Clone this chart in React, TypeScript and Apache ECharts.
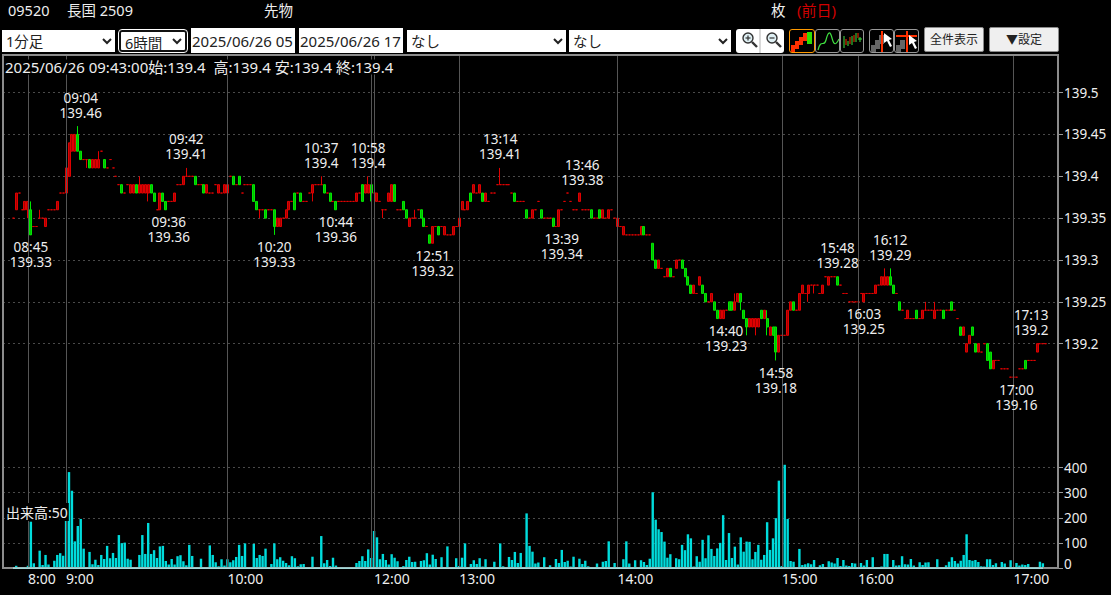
import React, { useEffect, useRef } from "react";
import * as echarts from "echarts";

// Prices are hundredths above 139 : [open, close, low?, high?]
const basePrice = 139;
const candles: number[][] = [
  [35,35],[36,38],[38,38],[36,36],[36,37],[36,37,35,37],[36,33,33,37],[34,34],[34,34],[35,35,35,36],
  [35,35],[34,35],[36,36],[36,36],[36,36],[36,37],[38,38],[38,38],[38,41],[40,44],
  [43,45],[43,45],[45,43,43,46],[43,42],[42,42],[42,42,41,42],[42,41],[41,42],[41,42],[41,42,41,43],
  [43,43],[42,41],[41,41],[42,42],[41,41],[40,40],[39,39],[39,38],[38,38],[39,39],
  [38,39],[38,39],[39,38],[38,39,38,40],[38,39],[38,39],[38,39,37,39],[39,38],[38,37],[36,36],
  [36,38],[38,37],[37,36],[37,37],[37,37],[37,38],[39,39],[39,39],[39,40],[40,40,40,41],
  [40,40],[40,40],[40,39],[39,39],[39,39],[39,38],[38,39],[38,38],[38,38],[39,39],
  [38,39],[38,38],[38,39],[38,39],[40,40],[40,39],[39,39],[40,39],[38,38],[39,39],
  [39,39],[39,39],[39,37],[37,36],[36,36,35,36],[36,36],[36,35],[36,36],[36,36],[36,34,33,36],
  [34,35],[34,35],[35,35],[35,36],[36,37],[37,37],[38,36],[38,38],[38,37],[37,37],
  [37,37],[38,38],[38,39,37,39],[39,39],[39,39],[39,39,39,40],[39,38],[38,38],[38,37],[37,37],
  [37,36],[37,37],[37,37],[37,37],[37,37],[37,37],[37,37],[37,38],[38,38],[39,37],
  [38,39],[38,39,38,40],[39,38,37,39],[38,38],[37,38],[37,37],[36,36,35,36],[36,36],[37,38],[37,39],
  [39,37],[36,36],[36,36],[37,36],[36,35],[34,35],[35,35],[35,35,35,36],[36,36],[36,35],
  [35,34],[34,34],[33,32],[32,34],[34,34],[34,33],[34,34],[33,34],[33,33],[33,33],
  [33,34],[34,34],[34,35],[36,37],[36,36],[36,37],[38,37],[38,39],[38,38],[38,39],
  [38,37],[37,38],[37,37],[38,38],[38,38],[39,39],[39,39,39,41],[39,39],[39,39],[39,39],
  [38,38],[38,37],[37,37],[37,37],[37,37],[36,35],[35,35],[35,36],[36,36],[37,37],
  [36,35],[35,35],[35,35],[35,35],[35,34],[34,34],[34,36],[36,36],[37,37],[38,38],
  [37,37],[36,36],[36,36],[37,38],[36,36],[36,36],[36,36],[36,35],[35,35],[35,35],
  [36,35],[35,36],[35,35],[35,36],[36,36],[35,35],[34,35],[34,34],[33,34],[33,33],
  [33,33],[33,33],[33,33],[33,33],[33,34],[34,33],[33,33],[33,33],[32,30],[30,29],
  [29,30],[29,29],[28,28],[28,29],[29,28],[28,28],[29,30],[30,30],[30,29],[29,28],
  [28,27],[27,26],[26,27],[26,26],[27,28],[27,26],[26,25],[25,25],[25,26],[25,24],
  [24,23],[23,24],[23,24],[24,24],[25,24],[25,24],[24,25,24,26],[25,26],[26,25,24,26],[24,23],
  [23,22,21,23],[22,23],[22,23],[22,23,21,23],[22,23],[24,23],[23,24],[23,22,21,24],[21,22],[22,21],
  [22,19,18,22],[19,21],[21,21],[21,21],[21,24],[24,25],[25,24],[24,24],[24,26],[26,27],
  [26,26],[26,27,25,27],[27,27],[27,27,26,27],[27,27],[26,26],[26,27],[28,28],[27,28],[28,28],
  [28,28],[28,27],[27,27],[26,26],[26,26],[25,25],[25,25],[25,25],[25,25],[26,26],
  [25,26],[26,26],[26,26],[26,26],[26,27],[27,27],[27,28],[27,28,27,29],[27,28],[28,27,27,29],
  [27,26],[26,26],[25,24],[24,24],[23,23],[23,24],[23,23],[23,23],[24,23],[23,23],
  [23,24],[24,24,24,25],[24,24],[24,24],[23,24,23,25],[24,24],[24,24],[24,23],[24,24],[24,24],
  [25,24],[24,24],[23,23],[22,21],[21,22],[19,20],[20,21],[22,21],[20,19],[19,20],
  [19,19],[20,20],[20,18],[19,17],[17,18],[18,18],[18,18],[17,17],[17,17],[17,17],
  [16,16],[16,16],[16,16],[17,17],[17,17],[18,17],[18,18],[18,18],[18,18],[19,20],
  [20,20],[20,20],[20,20],
];

const volumes: number[] = [
  5,10,3,5,5,10,185,20,3,70, 13,53,15,2,30,53,60,50,195,382,
  308,107,168,196,78,3,65,16,34,13, 53,37,89,40,61,41,132,100,102,38,
  34,4,1,53,132,57,180,57,72,41, 87,89,29,15,37,15,48,52,28,12,
  93,49,4,2,38,2,2,91,53,24, 8,36,11,36,24,32,45,93,49,99,
  2,3,97,41,53,49,78,3,17,99, 36,44,30,21,12,48,40,8,16,17,
  4,2,46,4,2,128,20,33,9,42, 11,2,2,2,4,2,2,21,29,48,
  29,75,41,148,123,36,57,33,15,56, 42,28,3,9,33,46,25,26,2,29,
  32,60,15,54,37,5,44,2,87,4, 2,40,9,42,99,2,17,32,17,40,
  7,36,3,2,26,2,99,8,4,45, 33,65,21,61,2,218,89,66,19,23,
  3,44,2,12,2,37,21,73,25,30, 7,46,2,38,17,30,8,4,2,19,
  2,26,29,107,2,21,2,2,36,107, 19,5,32,5,32,25,13,38,302,193,
  155,144,106,42,56,3,40,36,93,72, 135,119,7,48,26,113,40,131,77,49,
  79,101,211,33,140,41,86,15,123,66, 106,105,36,65,93,34,53,183,73,119,
  199,348,9,411,196,29,26,2,77,13, 16,20,16,33,2,12,17,2,28,23,
  19,41,9,33,11,9,21,19,2,21, 11,33,2,44,2,4,7,57,57,2,
  33,11,12,48,16,15,37,11,2,24, 13,23,24,2,4,36,4,3,12,26,
  44,29,19,30,53,135,33,30,33,25, 8,7,36,36,13,20,2,25,19,2,
  32,2,21,11,15,13,17,2,5,2, 26,20,2,
];

const hourPositions = [5.4, 18.2, 73.2, 122.3, 123.3, 151.6, 206, 261.7, 288.2, 341.2];
const hourLabelBars = [5, 18, 73, 123, 152, 206, 262, 288, 341];
const hourLabels = ["8:00", "9:00", "10:00", "12:00", "13:00", "14:00", "15:00", "16:00", "17:00"];

const noteTimes = ["08:45","09:04","09:36","09:42","10:20","10:37","10:44","10:58","12:51","13:14","13:39","13:46","14:40","14:58","15:48","16:03","16:12","17:00","17:13"];
const notePrices = ["139.33","139.46","139.36","139.41","139.33","139.4","139.36","139.4","139.32","139.41","139.34","139.38","139.23","139.18","139.28","139.25","139.29","139.16","139.2"];
const noteBars = [6,23,53,59,89,105,110,121,143,166,187,194,243,260,281,290,299,342,347];
const noteSides = ["bottom","top","bottom","top","bottom","top","bottom","top","bottom","top","bottom","top","bottom","bottom","top","bottom","top","bottom","top"];

const priceTicks = [139.2, 139.25, 139.3, 139.35, 139.4, 139.45, 139.5];
const volumeTicks = [0, 100, 200, 300, 400];

const infoLine = "2025/06/26 09:43:00始:139.4  高:139.4 安:139.4 終:139.4";
const volumeNote = "出来高:50";

const FONT = '"Noto Sans", "Noto Sans CJK JP", sans-serif';
const TEXT = "#eeeeee";
const PAD = 3;
const SLOTS = 360;

function headerText(text: string, x: number, y: number, fill = TEXT, size = 14.5) {
  return { type: "text", x, y, z: 100, silent: true, style: { text, fill, font: `${size}px ${FONT}`, textVerticalAlign: "middle" } };
}

function Chart() {
  const ref = useRef<HTMLDivElement>(null);
  useEffect(() => {
    const chart = echarts.init(ref.current!, undefined, { renderer: "svg" });
    const cats = Array.from({ length: SLOTS }, (_, i) => String(i));
    const candleData = candles.map((c, i) => {
      const lo = c.length > 2 ? c[2] : Math.min(c[0], c[1]);
      const hi = c.length > 3 ? c[3] : Math.max(c[0], c[1]);
      return [i + PAD, basePrice + c[0] / 100, basePrice + c[1] / 100, basePrice + lo / 100, basePrice + hi / 100];
    });
    const volumeData = volumes.map((v, i) => [i + PAD, v]);
    const labelSlots = hourLabelBars.map((b) => b + PAD);
    const vLines = {
      silent: true,
      symbol: "none",
      animation: false,
      label: { show: false },
      lineStyle: { color: "#555", width: 1, type: "solid" as const },
      data: hourPositions.map((p) => ({ xAxis: p + PAD })),
    };
    const sharedX = {
      type: "category" as const,
      data: cats,
      axisLine: { show: false },
      axisTick: { show: false },
      splitLine: { show: false },
    };
    const sharedY = {
      type: "value" as const,
      position: "right" as const,
      axisLine: { show: false },
      axisTick: { show: true, length: 4, lineStyle: { color: "#999" } },
      splitLine: { show: true, lineStyle: { color: "#4a4a4a", type: [2, 3] as any, width: 1 } },
    };
    chart.setOption({
      animation: false,
      backgroundColor: "#000",
      textStyle: { fontFamily: FONT },
      grid: [
        { left: 3, top: 56, width: 1056, height: 404, containLabel: false },
        { left: 3, top: 460, width: 1056, height: 108.3, containLabel: false },
      ],
      xAxis: [
        { ...sharedX, gridIndex: 0, axisLabel: { show: false } },
        {
          ...sharedX,
          gridIndex: 1,
          axisLabel: {
            show: true,
            color: TEXT,
            fontSize: 14,
            fontFamily: FONT,
            align: "left",
            margin: 3,
            interval: (idx: number) => labelSlots.includes(idx),
            formatter: (_: string, idx: number) => hourLabels[labelSlots.indexOf(idx)] ?? "",
          },
        },
      ],
      yAxis: [
        {
          ...sharedY,
          gridIndex: 0,
          min: 139.06105,
          max: 139.54373,
          axisTick: { ...sharedY.axisTick, customValues: priceTicks },
          axisLabel: {
            color: TEXT, fontSize: 13.5, fontFamily: FONT, margin: 5, customValues: priceTicks, padding: [2, 0, 0, 0],
            formatter: (v: number) => String(+v.toFixed(2)),
          },
        },
        {
          ...sharedY,
          gridIndex: 1,
          min: 0,
          max: 430,
          axisTick: { ...sharedY.axisTick, customValues: volumeTicks },
          axisLabel: {
            color: TEXT, fontSize: 13.5, fontFamily: FONT, margin: 5, customValues: volumeTicks,
            verticalAlignMinLabel: "bottom", lineHeight: 8, padding: [4, 0, 0, 0],
          },
        },
      ],
      series: [
        {
          type: "candlestick",
          xAxisIndex: 0,
          yAxisIndex: 0,
          encode: { x: 0, y: [1, 2, 3, 4] },
          data: candleData,
          barWidth: 2.5,
          itemStyle: {
            color: "#a80000",
            color0: "#00c000",
            borderColor: "#e00000",
            borderColor0: "#00e800",
            borderColorDoji: "#e00000",
            borderWidth: 1,
          },
          markLine: vLines,
          markPoint: {
            symbol: "circle",
            symbolSize: 0,
            silent: true,
            animation: false,
            data: noteTimes.map((t, i) => ({
              coord: [String(noteBars[i] + PAD), Number(notePrices[i])],
              label: {
                show: true,
                position: noteSides[i] as any,
                distance: noteSides[i] === "top" ? 6 : 5,
                formatter: `${t}\n${notePrices[i]}`,
                color: TEXT,
                fontSize: 13.5,
                lineHeight: 15,
                fontFamily: FONT,
                align: "center",
              },
            })),
          },
        },
        {
          type: "bar",
          xAxisIndex: 1,
          yAxisIndex: 1,
          encode: { x: 0, y: 1 },
          data: volumeData,
          barWidth: 2.4,
          itemStyle: { color: "#00dcdc" },
          markLine: vLines,
        },
      ],
      graphic: [
        { type: "rect", z: 50, silent: true, shape: { x: 3, y: 55, width: 1055, height: 513 }, style: { fill: "none", stroke: "#8c8c8c", lineWidth: 2 } },
        { type: "rect", z: 51, silent: true, shape: { x: 13, y: 567.5, width: 1030, height: 1.2 }, style: { fill: "#a8f2f2" } },
        headerText("09520", 8, 10),
        headerText("長国 2509", 67, 10),
        headerText("先物", 264, 10),
        headerText("枚", 771, 10),
        headerText("(前日)", 797, 10, "#d00000", 15),
        {
          type: "text", x: 5, y: 67, z: 100, silent: true,
          style: { text: infoLine, fill: TEXT, font: `15px ${FONT}`, backgroundColor: "#000", textVerticalAlign: "middle" },
        },
        {
          type: "text", x: 5, y: 512, z: 100, silent: true,
          style: { text: volumeNote, fill: TEXT, font: `14px ${FONT}`, backgroundColor: "#000", textVerticalAlign: "middle", padding: [2, 1, 2, 1] },
        },
      ],
    });
    return () => chart.dispose();
  }, []);
  return <div ref={ref} style={{ position: "absolute", left: 0, top: 0, width: 1111, height: 595 }} />;
}

const selectStyle = (left: number, width: number): React.CSSProperties => ({
  position: "absolute", left, top: 30, width, height: 22, border: "none", borderRadius: 0, background: "#fff",
  color: "#222", fontFamily: FONT, fontSize: 14.5, padding: 0, boxSizing: "border-box",
});
const inputStyle = (left: number, width: number): React.CSSProperties => ({
  position: "absolute", left, top: 28, width, height: 25, border: "none", background: "#fff", color: "#222",
  fontFamily: FONT, fontSize: 15, padding: "0 1px", boxSizing: "border-box", overflow: "hidden", outline: "none",
});
const iconBox = (left: number, width: number, active = false): React.CSSProperties => ({
  position: "absolute", left, top: 29, width, height: 24, boxSizing: "border-box", background: "#000",
  border: `1px solid ${active ? "#ff9a00" : "#999"}`, borderRadius: 3, overflow: "hidden",
});
const btnStyle = (left: number, width: number): React.CSSProperties => ({
  position: "absolute", left, top: 27, width, height: 25, boxSizing: "border-box", background: "#efefef",
  border: "1px solid #8a8a8a", borderRadius: 2, color: "#222", fontFamily: FONT, fontSize: 12, padding: 0, textAlign: "center", lineHeight: "23px",
});

function Lens({ x, minus }: { x: number; minus?: boolean }) {
  return (
    <g transform={`translate(${x},0)`} fill="none" stroke="#333">
      <circle cx="9" cy="9" r="5" strokeWidth="1.4" fill="#dff0f4" />
      <path d="M13 13 L18 18" strokeWidth="2.4" />
      <path d="M6.5 9 H11.5" strokeWidth="1.2" />
      {!minus && <path d="M9 6.5 V11.5" strokeWidth="1.2" />}
    </g>
  );
}

function Toolbar() {
  return (
    <>
      <select style={selectStyle(2, 113)} defaultValue="1分足"><option>1分足</option></select>
      <select style={{ ...selectStyle(119, 68), border: "2px solid #111", outline: "1px solid #fff", borderRadius: 3 }} defaultValue="6時間"><option>6時間</option></select>
      <input readOnly style={inputStyle(191, 104)} value="2025/06/26 05" />
      <input readOnly style={inputStyle(299, 104)} value="2025/06/26 17" />
      <select style={selectStyle(407, 159)} defaultValue="なし"><option>なし</option></select>
      <select style={selectStyle(569, 162)} defaultValue="なし"><option>なし</option></select>

      <div style={{ position: "absolute", left: 736, top: 29, width: 48, height: 24, background: "#fff", borderRadius: 3 }}>
        <svg width="48" height="24"><Lens x={3} /><path d="M24 0V24" stroke="#ccc" strokeWidth="1.5" /><Lens x={27} minus /></svg>
      </div>

      <div style={iconBox(789, 26, true)}>
        <svg width="24" height="22">
          <path d="M1 15h4v7H1z" fill="#ff3000" /><path d="M5 11h4v8H5z" fill="#ff3000" /><path d="M9 7h4v8H9z" fill="#ff3000" />
          <path d="M13 3h4v8h-4z" fill="#ff3000" /><path d="M17 2h5v12h-5z" fill="#30e000" />
        </svg>
      </div>
      <div style={iconBox(815, 25)}>
        <svg width="23" height="22"><path d="M2 20 C5 8,8 18,10 10 S14 0,16 8 S20 15,23 9" fill="none" stroke="#40e040" strokeWidth="1.2" /></svg>
      </div>
      <div style={iconBox(840, 24)}>
        <svg width="22" height="22"><path d="M3 6V18M7 11V16M11 6V15M15 3V12M19 7V12M17 9H21" stroke="#40e040" fill="none" /><path d="M5 9V15M9 7V14M13 5V12M17 3V8" stroke="#ff3000" fill="none" /></svg>
      </div>

      <div style={iconBox(869, 25)}>
        <svg width="23" height="22">
          <path d="M1 15h5v7H1zM5 10h5v9H5zM9 5h5v9H9z" fill="#666" /><path d="M12 1V22" stroke="#ff3000" strokeWidth="2" />
          <path d="M14 3 L14 13 L17 11 L20 17 L22 16 L19 10 L22 9 Z" fill="#fff" />
        </svg>
      </div>
      <div style={iconBox(894, 25)}>
        <svg width="23" height="22">
          <path d="M1 15h5v7H1zM5 10h5v9H5z" fill="#666" /><path d="M12 1V22M1 6H22" stroke="#ff3000" strokeWidth="2" />
          <path d="M14 5 L14 15 L17 13 L20 19 L22 18 L19 12 L22 11 Z" fill="#fff" />
        </svg>
      </div>

      <button style={btnStyle(924, 60)}>全件表示</button>
      <button style={btnStyle(989, 70)}>▼設定</button>
    </>
  );
}

export default function App() {
  return (
    <div style={{ position: "fixed", left: 0, top: 0, width: 1111, height: 595, background: "#000", overflow: "hidden" }}>
      <Chart />
      <Toolbar />
    </div>
  );
}
